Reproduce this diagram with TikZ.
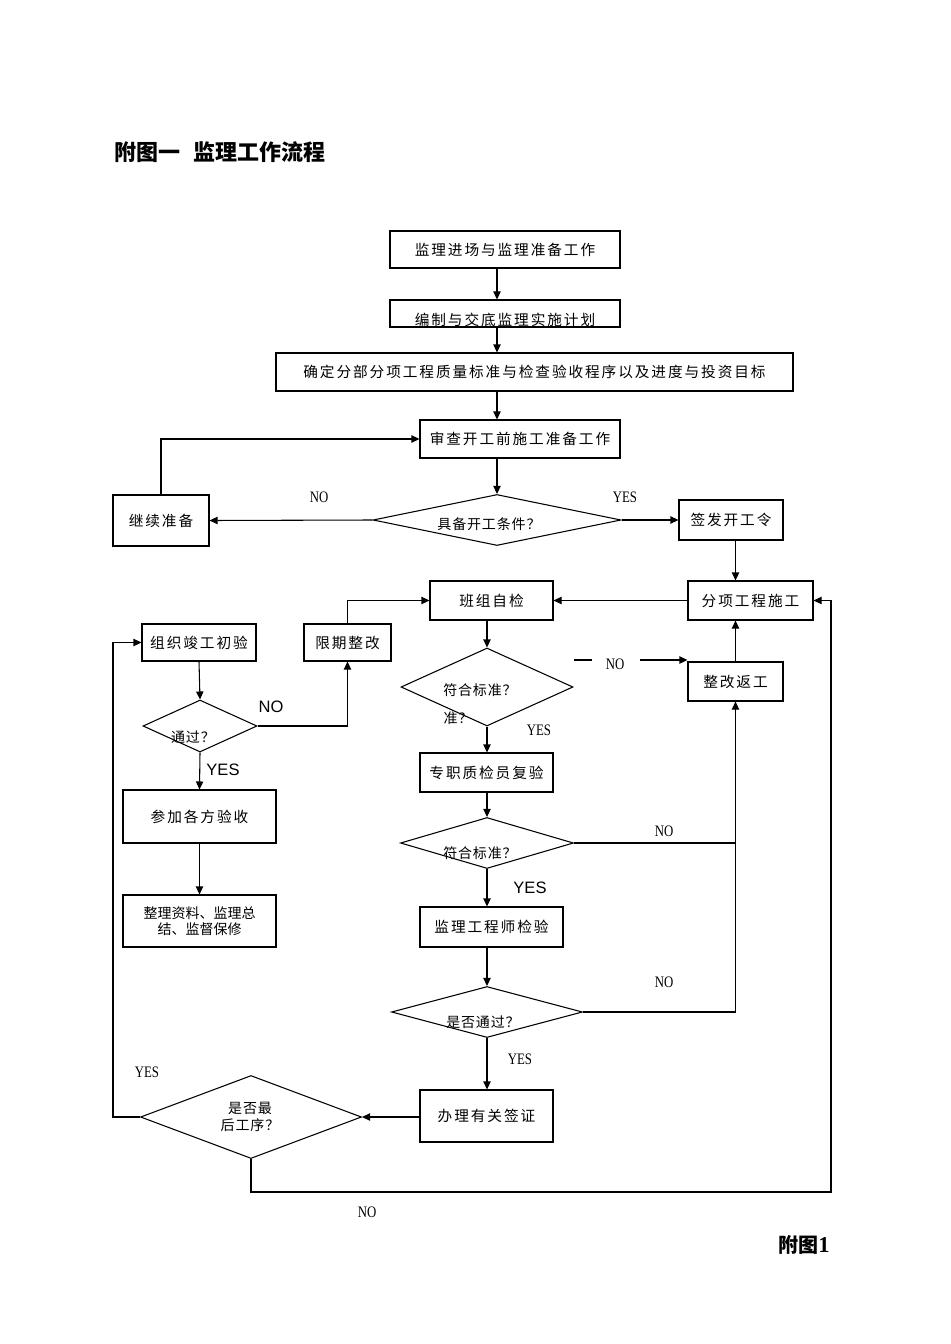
\documentclass[tikz,border=0pt]{standalone}
\usepackage{fontspec}
\usetikzlibrary{shapes.geometric,arrows.meta}
\setmainfont{Liberation Serif}
\newfontfamily\cjk[LetterSpace=13]{Noto Sans CJK SC}
\newfontfamily\cjkn{Noto Sans CJK SC}
\newfontfamily\cjkd[LetterSpace=6]{Noto Sans CJK SC}
\newfontfamily\lblfont[FakeStretch=0.8]{Liberation Serif}
\newfontfamily\lsans{Liberation Sans}
\newcommand\mybox[6]{\node[box, minimum width={(#4-#2)*0.75pt}, minimum height={(#5-#3)*0.75pt}] (#1) at ({(#2+#4)/2},{(#3+#5)/2}) {#6};}
\newcommand\mydia[5]{\node[dia, minimum width={#4*0.75pt}, minimum height={#5*0.75pt}] (#1) at (#2,#3) {};}
\begin{document}
\begin{tikzpicture}[x=0.75pt,y=-0.75pt,
  box/.style={draw, line width=0.8pt, inner sep=0pt, align=center, font=\cjk\fontsize{11}{13}\selectfont},
  dia/.style={draw, diamond, line width=0.8pt, inner sep=0pt},
  arr/.style={line width=0.8pt, -{Triangle[length=6pt,width=5.5pt]}},
  ln/.style={line width=0.8pt},
  txt/.style={inner sep=0pt, align=center, font=\cjk\fontsize{11}{13}\selectfont},
  dtxt/.style={inner sep=0pt, align=center, font=\cjkd\fontsize{10.5}{12.5}\selectfont},
  lbl/.style={inner sep=0pt, font=\lblfont\fontsize{12}{14}\selectfont},
  slbl/.style={inner sep=0pt, font=\lsans\fontsize{12.4}{14}\selectfont}]
\useasboundingbox (0,0) rectangle (950,1344);
% title
\node[anchor=west, inner sep=0pt, font=\cjkn\bfseries\fontsize{16.5}{18}\selectfont] (title) at (114,152) {附图一\hspace{10pt}监理工作流程};
% top chain
\mybox{b1}{390}{231}{620}{268}{监理进场与监理准备工作}
\mybox{b2}{390}{300}{620}{327}{}
\node[txt] (t2) at (505,320) {编制与交底监理实施计划};
\mybox{b3}{276}{353}{793}{391}{确定分部分项工程质量标准与检查验收程序以及进度与投资目标}
\mybox{b4}{420}{420}{620}{458}{审查开工前施工准备工作}
\mydia{dA}{497}{520}{248}{51}
\node[dtxt] (tA) at (489,524) {具备开工条件？};
\mybox{c1}{113}{495}{209}{546}{继续准备}
\mybox{c2}{679}{500}{783}{540}{签发开工令}
% middle
\mybox{e}{688}{581}{813}{620}{分项工程施工}
\mybox{g}{430}{581}{553}{620}{班组自检}
\mybox{h}{304}{624}{391}{661}{限期整改}
\mybox{i}{142}{624}{256}{661}{组织竣工初验}
\mydia{dB}{200}{726}{114}{52}
\node[dtxt] (tB) at (193,737) {通过？};
\mybox{j}{123}{790}{276}{843}{参加各方验收}
\node[box, minimum width={153*0.75pt}, minimum height={52*0.75pt}, font=\cjkn\fontsize{10.5}{12}\selectfont] (k) at (199.5,921) {整理资料、监理总\\结、监督保修};
\mybox{f}{688}{662}{783}{701}{整改返工}
\mydia{dC}{487}{687}{172}{78}
\node[dtxt] (tC) at (480,690) {符合标准？};
\node[dtxt] (tC2) at (458,718) {准？};
\mybox{l}{420}{753}{553}{792}{专职质检员复验}
\mydia{dD}{487}{843}{173}{51}
\node[dtxt] (tD) at (480,853) {符合标准？};
\mybox{m}{420}{907}{563}{947}{监理工程师检验}
\mydia{dE}{487}{1012}{191}{51}
\node[dtxt] (tE) at (483,1022) {是否通过？};
\mybox{o}{420}{1090}{553}{1142}{办理有关签证}
\mydia{dF}{251}{1117}{221}{83}
\node[dtxt] (tF) at (250,1117) {是否最\\后工序？};
% connectors
\draw[arr] (b1.south -| dA.north) -- (b2.north -| dA.north);
\draw[arr] (b2.south -| dA.north) -- (b3.north -| dA.north);
\draw[arr] (b3.south -| dA.north) -- (b4.north -| dA.north);
\draw[arr] (b4.south -| dA.north) -- (dA.north);
\draw[arr] (dA.west) -- (c1.east);
\draw[arr] (c1.north) |- (b4.west);
\draw[arr] (dA.east) -- (c2.west);
\draw[arr] (c2.south -| f.north) -- (e.north -| f.north);
\draw[arr] (e.west) -- (g.east);
\draw[arr] (h.north) |- (g.west);
\draw[arr] (i.south) -- (dB.north);
\draw[arr] (dB.east) -| (h.south);
\draw[arr] (dB.south) -- (j.north);
\draw[arr] (j.south) -- (k.north);
\draw[arr] (g.south -| dC.north) -- (dC.north);
\coordinate (n1) at (574,660);
\coordinate (n2) at (592,660);
\coordinate (n3) at (640,660);
\draw[ln] (n1) -- (n2);
\draw[arr] (n3) -- (n3 -| f.west);
\draw[arr] (f.north) -- (f.north |- e.south);
\draw[arr] (dC.south) -- (l.north -| dC.south);
\draw[arr] (l.south -| dD.north) -- (dD.north);
\draw[arr] (dD.south) -- (m.north -| dD.south);
\draw[arr] (m.south -| dE.north) -- (dE.north);
\draw[ln] (dD.east) -- (dD.east -| f.south);
\draw[arr] (dE.east) -| (f.south);
\draw[arr] (dE.south) -- (o.north -| dE.south);
\draw[arr] (dF.east -| o.west) -- (dF.east);
\coordinate (cl) at (113,1117);
\draw[arr] (dF.west) -- (cl) |- (i.west);
\coordinate (cr) at (831,1192);
\draw[arr] (dF.south) |- (cr) |- (e.east);
% labels
\node[lbl] at (319,497) {NO};
\node[lbl] at (625,497) {YES};
\node[slbl] at (271,707) {NO};
\node[slbl] at (223,770) {YES};
\node[lbl] at (539,730) {YES};
\node[lbl] at (615,664) {NO};
\node[lbl] at (664,831) {NO};
\node[slbl] at (530,888) {YES};
\node[lbl] at (664,982) {NO};
\node[lbl] at (520,1059) {YES};
\node[lbl] at (147,1072) {YES};
\node[lbl] at (367,1212) {NO};
\node[inner sep=0pt, font=\cjkn\bfseries\fontsize{15}{17}\selectfont] (fig) at (804,1245) {附图{\rmfamily\bfseries\fontsize{17}{17}\selectfont 1}};
\end{tikzpicture}
\end{document}
